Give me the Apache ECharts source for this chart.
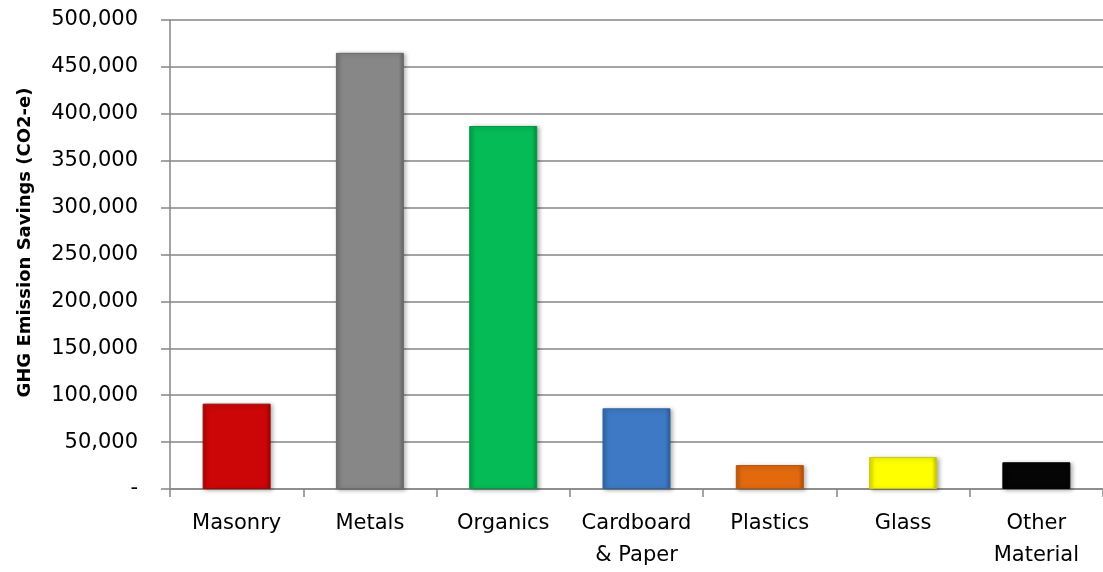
<!DOCTYPE html>
<html>
<head>
<meta charset="utf-8">
<script src="https://cdn.jsdelivr.net/npm/echarts@6/dist/echarts.min.js"></script>
<style>
  html, body { margin: 0; padding: 0; background: #fff; }
  #chart { width: 1103px; height: 572px; }
</style>
</head>
<body>
<div id="chart"></div>
<script>
// data
var categories = ['Masonry', 'Metals', 'Organics', 'Cardboard\n& Paper', 'Plastics', 'Glass', 'Other\nMaterial'];
var savings = [91000, 465000, 387000, 86000, 25500, 34000, 28500];
var barColors = ['#CC0606', '#878787', '#05BB55', '#3D79C4', '#E2690E', '#FFFF00', '#050505'];

var myChart = echarts.init(document.getElementById('chart'));

function shade(hex, k) {
  var n = parseInt(hex.slice(1), 16);
  var r = Math.round(((n >> 16) & 255) * k), g = Math.round(((n >> 8) & 255) * k), b = Math.round((n & 255) * k);
  return 'rgb(' + Math.min(r, 255) + ',' + Math.min(g, 255) + ',' + Math.min(b, 255) + ')';
}

var option = {
  backgroundColor: '#fff',
  animation: false,
  textStyle: { fontFamily: '"DejaVu Sans", sans-serif' },
  grid: { left: 170, right: -6, top: 20, bottom: 82 },
  xAxis: {
    type: 'category',
    data: categories,
    axisLine: { lineStyle: { color: '#868686', width: 1.5 } },
    axisTick: { show: true, length: 8, lineStyle: { color: '#868686', width: 1.5 } },
    axisLabel: { color: '#000', fontSize: 21, lineHeight: 32, margin: 19, interval: 0 }
  },
  yAxis: {
    type: 'value',
    min: 0,
    max: 500000,
    interval: 50000,
    name: 'GHG Emission Savings (CO2-e)',
    nameLocation: 'middle',
    nameGap: 136,
    nameTextStyle: { color: '#000', fontSize: 18, fontWeight: 'bold', padding: [0, 0, 0, 24] },
    axisLine: { show: true, lineStyle: { color: '#868686', width: 1.5 } },
    axisTick: { show: true, length: 9, lineStyle: { color: '#868686', width: 1.5 } },
    splitLine: { lineStyle: { color: '#868686', width: 1.5 } },
    axisLabel: {
      color: '#000', fontSize: 21, margin: 32,
      formatter: function (v) { return v === 0 ? '-' : v.toLocaleString('en-US'); }
    }
  },
  series: [{
    type: 'bar',
    barWidth: '51%',
    data: savings.map(function (v, i) {
      return {
        value: v,
        itemStyle: {
          color: {
            type: 'linear', x: 0, y: 0, x2: 1, y2: 0,
            colorStops: [
              { offset: 0, color: shade(barColors[i], 0.85) },
              { offset: 0.08, color: barColors[i] },
              { offset: 0.92, color: barColors[i] },
              { offset: 1, color: shade(barColors[i], 0.75) }
            ]
          },
          borderColor: shade(barColors[i], 0.8),
          borderWidth: 1,
          shadowColor: 'rgba(0,0,0,0.3)',
          shadowBlur: 4,
          shadowOffsetX: 2,
          shadowOffsetY: 1
        }
      };
    })
  }]
};

myChart.setOption(option, true);
</script>
</body>
</html>
